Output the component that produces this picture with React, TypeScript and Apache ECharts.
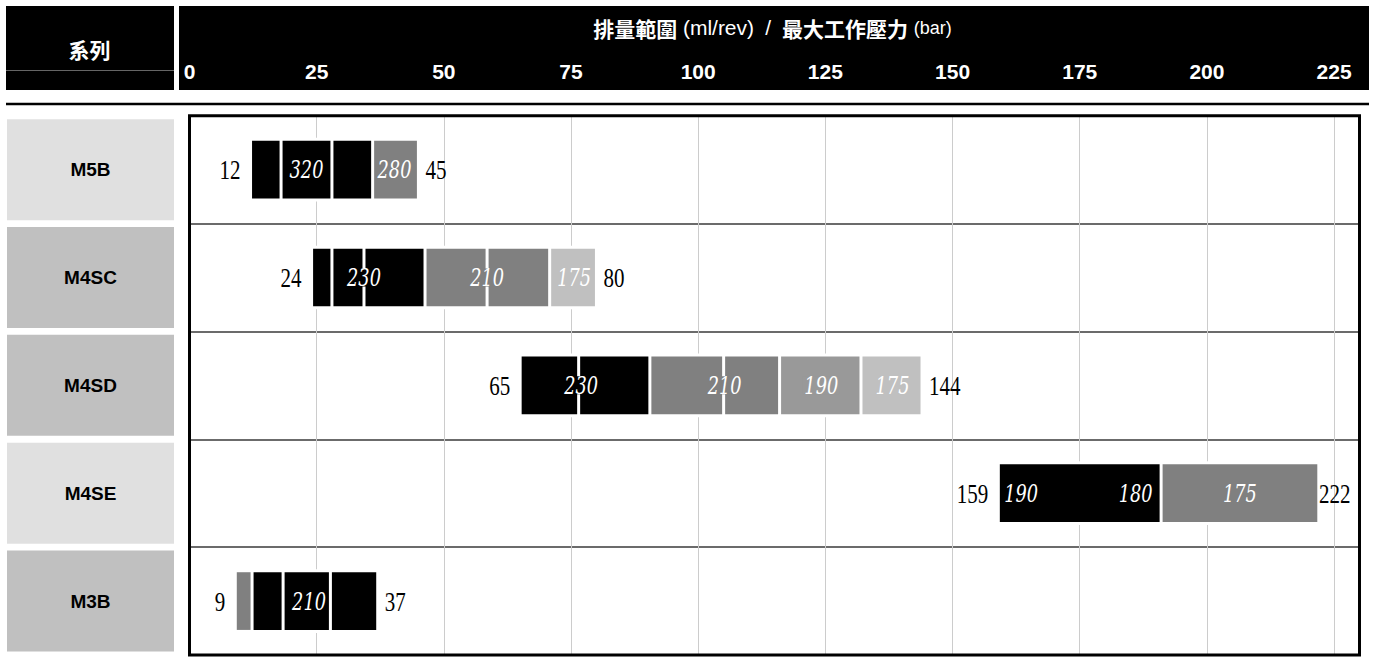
import React, { useEffect, useRef } from 'react';
import * as echarts from 'echarts';

// ---- data ----
const categories = ['M5B', 'M4SC', 'M4SD', 'M4SE', 'M3B'];
const rangeMin = [12, 24, 65, 159, 9];
const rangeMax = [45, 80, 144, 222, 37];

// segment boundaries (ml/rev) and tone index of each segment
const m5bBounds = [12, 18, 28, 36, 45];
const m5bTones = [0, 0, 0, 1];
const m4scBounds = [24, 28, 34.3, 46.3, 58.5, 70.8, 80];
const m4scTones = [0, 0, 0, 1, 1, 3];
const m4sdBounds = [65, 76.5, 90.5, 105, 116, 132, 144];
const m4sdTones = [0, 0, 1, 1, 2, 3];
const m4seBounds = [159, 191, 222];
const m4seTones = [0, 1];
const m3bBounds = [9, 12.3, 18.4, 27.7, 37];
const m3bTones = [1, 0, 0, 0];

// max working pressure labels (bar)
const pressureRow = [0, 0, 1, 1, 1, 2, 2, 2, 2, 3, 3, 3, 4];
const pressureAt = [23, 40.3, 34.3, 58.5, 75.6, 77, 105.2, 124.2, 138.2, 163.5, 186, 206.5, 23.5];
const pressureText = ['320', '280', '230', '210', '175', '230', '210', '190', '175', '190', '180', '175', '210'];

// axis
const xMin = 0;
const xMax = 230;
const xStep = 25;

// ---- styles ----
const TONES = ['#000000', '#808080', '#999999', '#c0c0c0'];
const LIGHT_LABELS = ['M5B', 'M4SE'];
const GRID = { left: 189.5, right: 15.5, top: 115.7, bottom: 7 };
const W = 1375;
const H = 662;

const boundsList = [m5bBounds, m4scBounds, m4sdBounds, m4seBounds, m3bBounds];
const tonesList = [m5bTones, m4scTones, m4sdTones, m4seTones, m3bTones];

const segData: number[][] = [];
boundsList.forEach((b, i) => {
  for (let k = 0; k < b.length - 1; k++) segData.push([i, b[k], b[k + 1], tonesList[i][k]]);
});

const toneAt = (row: number, v: number) => {
  const b = boundsList[row];
  for (let k = 0; k < b.length - 1; k++) if (v >= b[k] && v <= b[k + 1]) return tonesList[row][k];
  return 0;
};
const pressureData = pressureRow.map((r, i) => [r, pressureAt[i], i, toneAt(r, pressureAt[i])]);
const rangeData = categories.map((_, i) => [i, rangeMin[i], rangeMax[i]]);

const BAR_RATIO = 0.535;

const labelRich = (bg: string) => ({
  backgroundColor: bg,
  width: 167,
  height: 101,
  lineHeight: 101,
  align: 'center',
  fontSize: 19,
  fontWeight: 'bold',
  fontFamily: 'Liberation Sans',
  color: '#000',
});

export default function App() {
  const ref = useRef<HTMLDivElement>(null);
  useEffect(() => {
    if (!ref.current) return;
    const chart = echarts.init(ref.current, undefined, { renderer: 'svg' });
    const option: any = {
      animation: false,
      grid: { ...GRID, show: false, containLabel: false },
      xAxis: {
        type: 'value',
        position: 'top',
        min: xMin,
        max: xMax,
        interval: xStep,
        axisLine: { show: false },
        axisTick: { show: false },
        splitLine: { show: true, showMinLine: false, showMaxLine: false, lineStyle: { color: '#cccccc', width: 1 } },
        axisLabel: {
          color: '#fff',
          fontSize: 21,
          fontWeight: 'bold',
          fontFamily: 'Liberation Sans',
          margin: 44.7,
          verticalAlign: 'middle',
          formatter: (v: number) => (v % xStep === 0 ? String(v) : ''),
        },
      },
      yAxis: {
        type: 'category',
        data: categories,
        inverse: true,
        axisLine: { show: false },
        axisTick: { show: false },
        splitLine: { show: true, interval: 0, showMinLine: false, showMaxLine: false, lineStyle: { color: '#3a3a3a', width: 1.5 } },
        axisLabel: {
          interval: 0,
          margin: 15.5,
          formatter: (v: string) => `{${LIGHT_LABELS.includes(v) ? 'l' : 'd'}|${v}}`,
          rich: { l: labelRich('#e0e0e0'), d: labelRich('#c0c0c0') },
        },
      },
      graphic: [
        { type: 'rect', z: -1, shape: { x: 6, y: 6, width: 168, height: 84 }, style: { fill: '#000' } },
        { type: 'line', z: -1, shape: { x1: 6, y1: 70.5, x2: 174, y2: 70.5 }, style: { stroke: '#666', lineWidth: 1 } },
        { type: 'rect', z: -1, shape: { x: 179, y: 6, width: 1190, height: 84 }, style: { fill: '#000' } },
        { type: 'rect', shape: { x: 6, y: 102.8, width: 1363, height: 2.5 }, style: { fill: '#000' } },
        {
          type: 'rect',
          z: 50,
          shape: {
            x: GRID.left,
            y: GRID.top,
            width: W - GRID.left - GRID.right,
            height: H - GRID.top - GRID.bottom,
          },
          style: { fill: 'none', stroke: '#000', lineWidth: 3 },
        },
        {
          type: 'text', x: 89.5, y: 49,
          style: { text: '系列', fill: '#fff', font: 'bold 21px "Noto Sans CJK TC"', align: 'center', verticalAlign: 'middle' },
        },
        {
          type: 'text', x: 772.5, y: 27.5,
          style: {
            text: '{c|排量範圍} {e|(ml/rev)}  {e|/}  {c|最大工作壓力} {b|(bar)}',
            fill: '#fff',
            font: '20px "Liberation Sans"',
            align: 'center',
            verticalAlign: 'middle',
            lineHeight: 26,
            rich: {
              c: { fontFamily: 'Noto Sans CJK TC', fontWeight: 'bold', fontSize: 21, fill: '#fff', lineHeight: 26, verticalAlign: 'middle' },
              e: { fontFamily: 'Liberation Sans', fontSize: 21, fill: '#fff', lineHeight: 26, verticalAlign: 'middle' },
              b: { fontFamily: 'Liberation Sans', fontSize: 18, fill: '#fff', lineHeight: 26, verticalAlign: 'middle' },
            },
          },
        },
      ],
      series: [
        {
          type: 'custom',
          name: 'halo',
          z: 1,
          data: rangeData,
          encode: { x: [1, 2], y: 0 },
          renderItem: (params: any, api: any) => {
            const row = api.value(0);
            const a = api.coord([api.value(1), row]);
            const b = api.coord([api.value(2), row]);
            const h = api.size([0, 1])[1] * BAR_RATIO;
            return {
              type: 'rect',
              shape: { x: a[0], y: a[1] - h / 2 - 3, width: b[0] - a[0], height: h + 6 },
              style: { fill: '#fff' },
            };
          },
        },
        {
          type: 'custom',
          name: '排量範圍',
          z: 2,
          data: segData,
          encode: { x: [1, 2], y: 0 },
          renderItem: (params: any, api: any) => {
            const row = api.value(0);
            const a = api.coord([api.value(1), row]);
            const b = api.coord([api.value(2), row]);
            const h = api.size([0, 1])[1] * BAR_RATIO;
            return {
              type: 'rect',
              shape: { x: a[0] + 1.5, y: a[1] - h / 2, width: b[0] - a[0] - 3, height: h },
              style: { fill: TONES[api.value(3)] },
            };
          },
        },
        {
          type: 'custom',
          name: '最大工作壓力',
          z: 3,
          data: pressureData,
          encode: { x: 1, y: 0 },
          renderItem: (params: any, api: any) => {
            const row = api.value(0);
            const p = api.coord([api.value(1), row]);
            const txt = pressureText[api.value(2)];
            const bw = txt.length * 11 + 4;
            return {
              type: 'group',
              children: [
                {
                  type: 'rect',
                  shape: { x: p[0] - bw / 2, y: p[1] - 9, width: bw, height: 18 },
                  style: { fill: TONES[api.value(3)] },
                },
                {
                  type: 'text',
                  x: p[0],
                  y: p[1],
                  scaleX: 0.74,
                  style: {
                    text: txt,
                    fill: '#fff',
                    font: 'italic 24px "DejaVu Serif"',
                    align: 'center',
                    verticalAlign: 'middle',
                  },
                },
              ],
            };
          },
        },
        {
          type: 'custom',
          name: 'range',
          z: 3,
          data: rangeData,
          encode: { x: [1, 2], y: 0 },
          renderItem: (params: any, api: any) => {
            const row = api.value(0);
            const lo = api.value(1);
            const hi = api.value(2);
            const a = api.coord([lo, row]);
            const b = api.coord([hi, row]);
            const hiText = String(hi);
            const w = hiText.length * 10.5;
            const limit = params.coordSys.x + params.coordSys.width - 9 - w;
            const font = '28px "Liberation Serif"';
            return {
              type: 'group',
              children: [
                {
                  type: 'text', x: a[0] - 10, y: a[1], scaleX: 0.75,
                  style: { text: String(lo), fill: '#000', font, align: 'right', verticalAlign: 'middle' },
                },
                {
                  type: 'text', x: Math.min(b[0] + 7, limit), y: b[1], scaleX: 0.75,
                  style: { text: hiText, fill: '#000', font, align: 'left', verticalAlign: 'middle' },
                },
              ],
            };
          },
        },
      ],
    };
    chart.setOption(option);
    return () => chart.dispose();
  }, []);
  return <div ref={ref} style={{ position: 'absolute', left: 0, top: 0, width: W, height: H }} />;
}
